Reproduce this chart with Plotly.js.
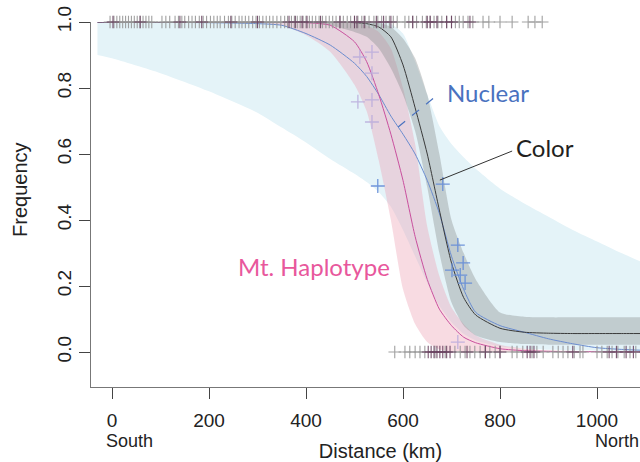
<!DOCTYPE html>
<html><head><meta charset="utf-8">
<script src="https://cdn.plot.ly/plotly-3.0.1.min.js"></script>
<style>html,body{margin:0;padding:0;overflow:hidden;background:#fff}#chart{width:670px;height:462px}</style>
</head><body><div id="chart"></div>
<script>
// Distance grid (km) for fitted clines and confidence bands
const distKm = [-30, 0, 100, 200, 300, 350, 400, 450, 500, 525, 550, 575, 600, 625, 650, 675, 700, 725, 750, 800, 850, 900, 950, 1000, 1050, 1100, 1150];

// Nuclear cline (blue) and its confidence band (light blue)
const nuclearFit = [1.0, 1.0, 0.999, 0.998, 0.995, 0.99, 0.965, 0.93, 0.875, 0.835, 0.78, 0.715, 0.66, 0.6, 0.52, 0.42, 0.29, 0.19, 0.12, 0.08, 0.06, 0.04, 0.025, 0.013, 0.008, 0.005, 0.004];
const nuclearHi = [1, 1, 1, 1, 1, 1, 1, 1, 1, 1, 1, 0.995, 0.965, 0.88, 0.78, 0.685, 0.63, 0.59, 0.555, 0.495, 0.45, 0.41, 0.37, 0.335, 0.3, 0.268, 0.24];
const nuclearLo = [0.9, 0.89, 0.845, 0.79, 0.725, 0.68, 0.635, 0.585, 0.54, 0.515, 0.485, 0.44, 0.37, 0.29, 0.21, 0.14, 0.09, 0.055, 0.035, 0.017, 0.01, 0.007, 0.005, 0.004, 0.004, 0.003, 0.003];

// Mt. haplotype cline (magenta) and band (pink)
const mtFit = [1, 1, 1, 1, 1, 1, 0.998, 0.99, 0.94, 0.88, 0.78, 0.66, 0.52, 0.35, 0.22, 0.13, 0.08, 0.045, 0.028, 0.01, 0.004, 0.002, 0.001, 0.001, 0.001, 0.001, 0.001];
const mtHi = [1, 1, 1, 1, 1, 1, 1, 1, 0.998, 0.99, 0.97, 0.92, 0.8, 0.63, 0.38, 0.23, 0.135, 0.085, 0.05, 0.022, 0.01, 0.005, 0.003, 0.003, 0.003, 0.003, 0.003];
const mtLo = [1, 1, 1, 1, 0.998, 0.99, 0.96, 0.91, 0.81, 0.73, 0.58, 0.4, 0.19, 0.085, 0.03, 0.008, 0.002, 0, 0, 0, 0, 0, 0, 0, 0, 0, 0];

// Color cline (black) and band (gray)
const colorFit = [1, 1, 1, 1, 1, 1, 1, 1, 0.998, 0.995, 0.985, 0.955, 0.87, 0.74, 0.6, 0.43, 0.27, 0.165, 0.112, 0.072, 0.06, 0.057, 0.056, 0.056, 0.056, 0.056, 0.056];
const colorHi = [1, 1, 1, 1, 1, 1, 1, 1, 1, 1, 0.998, 0.985, 0.95, 0.89, 0.78, 0.6, 0.4, 0.3, 0.22, 0.12, 0.107, 0.105, 0.105, 0.105, 0.105, 0.105, 0.105];
const colorLo = [1, 1, 1, 1, 1, 1, 0.998, 0.99, 0.97, 0.955, 0.92, 0.86, 0.78, 0.67, 0.5, 0.3, 0.15, 0.08, 0.05, 0.03, 0.024, 0.022, 0.022, 0.022, 0.022, 0.022, 0.022];

// Population samples (crosses)
const mtSampleKm = [511, 536, 536, 507, 536, 536, 713];
const mtSampleFreq = [0.894, 0.909, 0.845, 0.758, 0.764, 0.697, 0.03];
const nucSampleKm = [548, 682, 713, 724, 701, 718, 728];
const nucSampleFreq = [0.503, 0.509, 0.324, 0.27, 0.248, 0.233, 0.209];

// Individual rug marks at frequency 1 (south type) and 0 (north type)
const rugTopGray = [-4, 4, 10, 16, 22, 28, 34, 40, 46, 52, 58, 64, 70, 76, 82, 103, 111, 119, 130, 137, 144, 150, 158, 165, 172, 180, 188, 195, 203, 210, 217, 223, 232, 240, 247, 254, 262, 268, 275, 282, 290, 297, 304, 311, 318, 325, 332, 340, 348, 356, 362, 370, 376, 382, 388, 394, 400, 407, 413, 420, 427, 434, 441, 448, 455, 462, 470, 477, 485, 492, 500, 507, 515, 522, 530, 540, 548, 556, 565, 572, 580, 588, 604, 612, 620, 628, 640, 648, 656, 664, 672, 680, 690, 700, 708, 716, 724, 734, 744, 765, 777, 800, 825, 858, 872, 887];
const rugTopDark = [2, 58, 140, 185, 245, 300, 365, 378, 392, 402, 430, 470, 500, 505, 520, 545, 560, 575, 620, 650, 656, 670, 690, 700, 738];
const rugBottomGray = [583, 604, 614, 625, 635, 645, 666, 687, 707, 718, 728, 738, 748, 759, 769, 779, 790, 800, 825, 835, 847, 866, 876, 889, 909, 920, 930, 940, 953, 965, 971, 1000, 1010, 1021, 1031, 1043, 1056, 1068, 1080, 1095, 1110, 1125];
const rugBottomDark = [652, 658, 664, 670, 676, 682, 690, 697, 732, 770, 800, 856, 862, 870, 950, 1025, 1040, 1060, 1075, 1100];

const xTicks = [0, 200, 400, 600, 800, 1000];
const yTicks = [0, 0.2, 0.4, 0.6, 0.8, 1.0];

function band(x, hi, lo, color) {
  return {
    x: x.concat(x.slice().reverse()),
    y: hi.concat(lo.slice().reverse()),
    mode: 'lines', fill: 'toself', fillcolor: color,
    line: {width: 0, shape: 'spline', smoothing: 0.6},
    hoverinfo: 'skip', cliponaxis: false
  };
}
function fitLine(y, color) {
  return {x: distKm, y: y, mode: 'lines', line: {color: color, width: 1, shape: 'spline', smoothing: 0.6}, hoverinfo: 'skip', cliponaxis: false};
}
function rug(xs, level, color) {
  return {x: xs, y: xs.map(() => level), mode: 'markers', cliponaxis: false, hoverinfo: 'skip',
    marker: {symbol: 'cross-thin-open', size: 9, color: color, line: {color: color, width: 1.1}}};
}
function crosses(xs, ys, color) {
  return {x: xs, y: ys, mode: 'markers', cliponaxis: false, hoverinfo: 'skip',
    marker: {symbol: 'cross-thin-open', size: 10, color: color, line: {color: color, width: 1.3}}};
}

const traces = [
  band(distKm, nuclearHi, nuclearLo, 'rgb(228,243,248)'),
  band(distKm, mtHi, mtLo, 'rgba(236,160,178,0.38)'),
  band(distKm, colorHi, colorLo, 'rgba(130,136,136,0.36)'),
  fitLine(nuclearFit, '#6a8ccf'),
  fitLine(mtFit, '#c9509e'),
  fitLine(colorFit, '#3a3a3a'),
  crosses(mtSampleKm, mtSampleFreq, 'rgba(185,170,220,0.85)'),
  crosses(nucSampleKm, nucSampleFreq, 'rgba(100,140,215,0.9)'),
  rug(rugTopGray, 1, 'rgba(150,150,150,0.9)'),
  rug(rugTopDark, 1, 'rgba(105,65,95,0.9)'),
  rug(rugBottomGray, 0, 'rgba(150,150,150,0.9)'),
  rug(rugBottomDark, 0, 'rgba(105,65,95,0.9)')
];

const labelFont = 'Lato, "Open Sans", sans-serif';
const axFont = '"Liberation Sans", Arial, sans-serif';

const layout = {
  width: 670, height: 462,
  margin: {l: 91, r: 0, t: 22, b: 75},
  paper_bgcolor: '#fff', plot_bgcolor: '#fff',
  showlegend: false, hovermode: false,
  xaxis: {
    range: [-43.3, 1150.5], showgrid: false, zeroline: false,
    showline: true, linecolor: '#777', linewidth: 1,
    ticks: 'outside', ticklen: 11, tickcolor: '#444', tickwidth: 1,
    tickvals: xTicks, ticktext: xTicks.map(String),
    tickfont: {family: axFont, size: 19, color: '#222'},
    ticklabelstandoff: 5,
    title: {text: 'Distance (km)', font: {family: axFont, size: 20, color: '#222'}, standoff: 15}
  },
  yaxis: {
    range: [-0.106, 1.0], showgrid: false, zeroline: false,
    showline: true, linecolor: '#777', linewidth: 1,
    ticks: 'outside', ticklen: 11, tickcolor: '#444', tickwidth: 1,
    tickvals: yTicks, ticktext: yTicks.map(v => v.toFixed(1)),
    tickangle: -90,
    tickfont: {family: axFont, size: 19, color: '#222'}
  },
  shapes: [
    {type: 'line', xref: 'x', yref: 'y', x0: 590, y0: 0.682, x1: 676, y1: 0.785,
     line: {color: '#4a72bf', width: 1.2, dash: 'dash'}, layer: 'above'},
    {type: 'line', xref: 'x', yref: 'y', x0: 676, y0: 0.521, x1: 825, y1: 0.609,
     line: {color: '#333', width: 1}, layer: 'above'}
  ],
  annotations: [
    {text: 'Frequency', xref: 'paper', yref: 'paper', x: -0.1226, y: 0.54, textangle: -90,
     xanchor: 'center', yanchor: 'middle',
     showarrow: false, font: {family: axFont, size: 20, color: '#222'}},
    {text: 'South', xref: 'x', yref: 'paper', x: -16.5, y: -0.148, xanchor: 'left', yanchor: 'middle',
     showarrow: false, font: {family: axFont, size: 18, color: '#222'}},
    {text: 'North', xref: 'x', yref: 'paper', x: 991.8, y: -0.148, xanchor: 'left', yanchor: 'middle',
     showarrow: false, font: {family: axFont, size: 18, color: '#222'}},
    {text: 'Nuclear', xref: 'x', yref: 'y', x: 775, y: 0.785, showarrow: false,
     font: {family: labelFont, size: 24, color: '#4a72bf'}},
    {text: 'Color', xref: 'x', yref: 'y', x: 893, y: 0.621, showarrow: false,
     font: {family: labelFont, size: 24, color: '#231f20'}},
    {text: 'Mt. Haplotype', xref: 'x', yref: 'y', x: 416.5, y: 0.258, showarrow: false,
     font: {family: labelFont, size: 24, color: '#e8579c'}}
  ]
};

Plotly.newPlot('chart', traces, layout, {staticPlot: true, responsive: false});
</script>
</body></html>
